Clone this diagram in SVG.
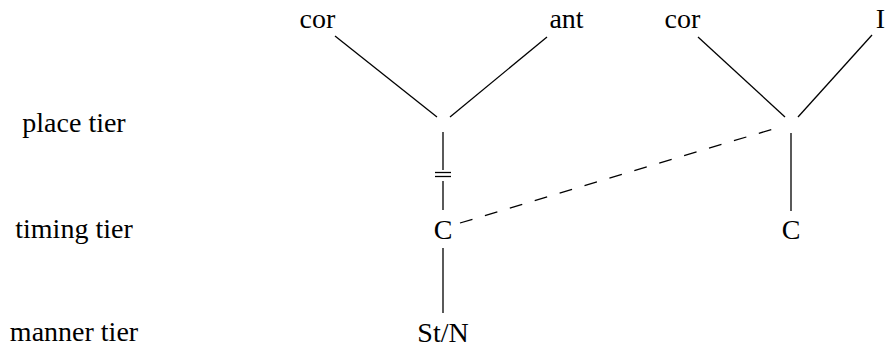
<svg xmlns="http://www.w3.org/2000/svg" width="893" height="352" viewBox="0 0 893 352">
<style>
text{font-family:"Liberation Serif","Times New Roman",serif;font-size:28px;fill:#000;text-anchor:middle}
.l{stroke:#000;stroke-width:1.3;fill:none}
.d{stroke-dasharray:13 13}
</style>
<rect width="893" height="352" fill="#fff"/>
<g id="tiers">
<text x="74" y="132">place tier</text>
<text x="74" y="238">timing tier</text>
<text x="74" y="341">manner tier</text>
</g>
<g id="cor1"><text x="317.5" y="28">cor</text></g>
<g id="ant"><text x="566.5" y="28">ant</text></g>
<g id="cor2"><text x="682.5" y="28">cor</text></g>
<g id="I"><text x="880.5" y="28">I</text></g>
<g id="C1"><text x="443" y="239">C</text></g>
<g id="C2"><text x="791" y="239">C</text></g>
<g id="StN"><text x="443" y="342">St/N</text></g>
<g id="connectors">
<line class="l" x1="335" y1="36" x2="437" y2="117"/>
<line class="l" x1="547" y1="37" x2="450" y2="117"/>
<line class="l" x1="443" y1="132" x2="443" y2="170"/>
<line class="l" x1="435" y1="172.5" x2="451" y2="172.5"/>
<line class="l" x1="435" y1="176.5" x2="451" y2="176.5"/>
<line class="l" x1="443" y1="181" x2="443" y2="210"/>
<line class="l" x1="443" y1="248" x2="443" y2="313"/>
<line class="l" x1="698" y1="37" x2="785" y2="117"/>
<line class="l" x1="872" y1="35" x2="798" y2="117"/>
<line class="l" x1="791" y1="133" x2="791" y2="211"/>
<line class="l d" x1="460" y1="223" x2="783" y2="126"/>
</g>
</svg>
